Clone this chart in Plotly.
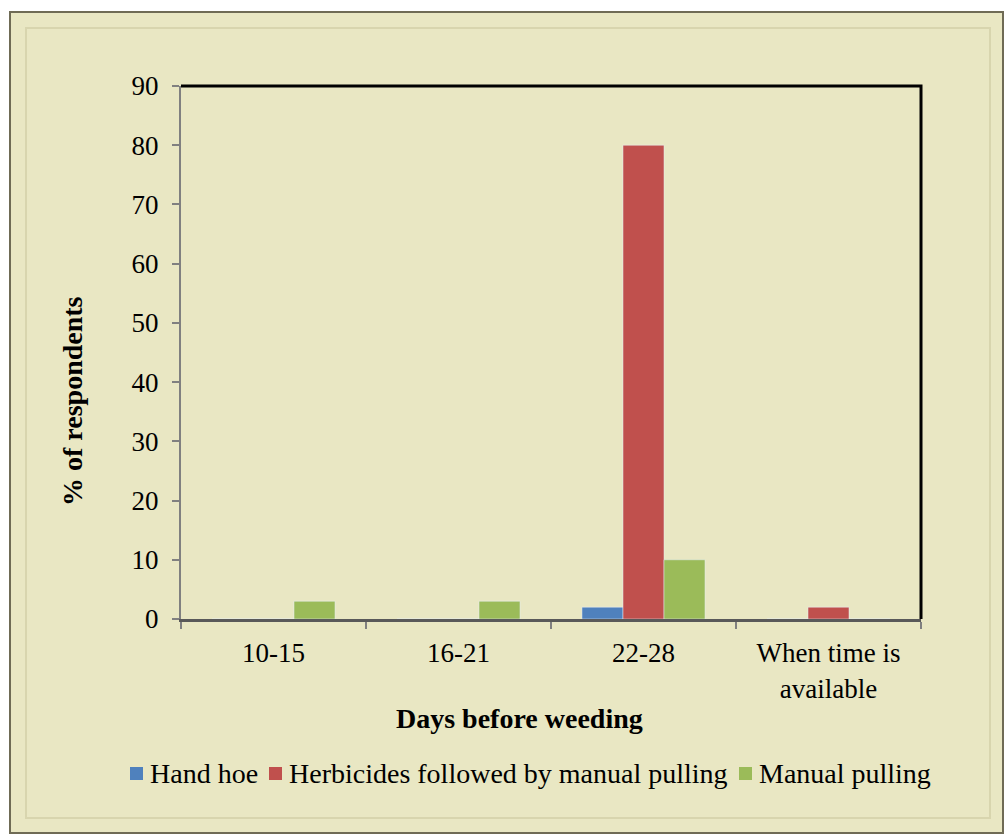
import plotly.graph_objects as go

categories = ["10-15", "16-21", "22-28", "When time is<br>available"]
series_names = ["Hand hoe", "Herbicides followed by manual pulling", "Manual pulling"]
hand_hoe = [0, 0, 2, 0]
herbicides_manual = [0, 0, 80, 2]
manual_pulling = [3, 3, 10, 0]
y_ticks = [0, 10, 20, 30, 40, 50, 60, 70, 80, 90]
colors = ["#4F81BD", "#C0504D", "#9BBB59"]
x_title = "Days before weeding"
y_title = "% of respondents"

W, H = 1005, 838
L, R, T, B = 181, 921, 86, 619
SERIF = "Liberation Serif, Times New Roman, serif"

def px(x):
    return (x - L) / (R - L)

def py(y):
    return (B - y) / (B - T)

fig = go.Figure()
for name, vals, col in zip(series_names, [hand_hoe, herbicides_manual, manual_pulling], colors):
    fig.add_trace(go.Bar(name=name, x=categories, y=vals, marker_color=col, showlegend=False))

shapes = [
    # outer frame
    dict(type="rect", xref="paper", yref="paper", layer="below",
         x0=px(10), x1=px(1003), y0=py(833), y1=py(12),
         fillcolor="#E9E7C3", line=dict(color="#6F6B55", width=2)),
    dict(type="rect", xref="paper", yref="paper", layer="below",
         x0=px(26), x1=px(990), y0=py(818), y1=py(28),
         fillcolor="rgba(0,0,0,0)", line=dict(color="#D8D5AE", width=2)),
    # plot area border on top and right
    dict(type="path", xref="paper", yref="paper",
         path=f"M {px(181)},{py(86)} L {px(921)},{py(86)} L {px(921)},{py(619)}",
         line=dict(color="black", width=3)),
]

annotations = [
    dict(text=f"<b>{x_title}</b>", xref="paper", yref="paper", x=px(519), y=py(718),
         xanchor="center", yanchor="middle", showarrow=False,
         font=dict(family=SERIF, size=28, color="black")),
    dict(text=f"<b>{y_title}</b>", xref="paper", yref="paper", x=px(72), y=py(401),
         xanchor="center", yanchor="middle", showarrow=False, textangle=-90,
         font=dict(family=SERIF, size=28, color="black")),
]

# legend: colour keys and labels along the bottom
legend_y = 773
key_x = [130, 269, 739]
for name, col, kx in zip(series_names, colors, key_x):
    shapes.append(dict(type="rect", xref="paper", yref="paper",
                       x0=px(kx), x1=px(kx + 13), y0=py(legend_y + 7), y1=py(legend_y - 6),
                       fillcolor=col, line=dict(width=0)))
    annotations.append(dict(text=name, xref="paper", yref="paper",
                            x=px(kx + 18), y=py(legend_y), xanchor="left", yanchor="middle",
                            showarrow=False, font=dict(family=SERIF, size=28, color="black")))

fig.update_layout(
    width=W, height=H,
    margin=dict(l=L, r=W - R, t=T, b=H - B, autoexpand=False),
    paper_bgcolor="white",
    plot_bgcolor="white",
    barmode="group",
    bargap=0.335,
    bargroupgap=0,
    showlegend=False,
    font=dict(family=SERIF, size=27, color="black"),
    xaxis=dict(
        showline=True, linecolor="#595959", linewidth=3,
        ticks="outside", tickcolor="#808080", ticklen=7, tickwidth=2,
        tickson="boundaries", automargin=False,
        ticklabelstandoff=8,
        tickfont=dict(family=SERIF, size=27, color="black"),
        showgrid=False,
    ),
    yaxis=dict(
        range=[0, 90], tickvals=y_ticks, automargin=False,
        showline=True, linecolor="#808080", linewidth=2,
        ticks="outside", tickcolor="#808080", ticklen=7, tickwidth=2,
        ticklabelstandoff=8,
        tickfont=dict(family=SERIF, size=27, color="black"),
        showgrid=False, zeroline=False,
    ),
    shapes=shapes,
    annotations=annotations,
)

fig.write_html("out.html")
